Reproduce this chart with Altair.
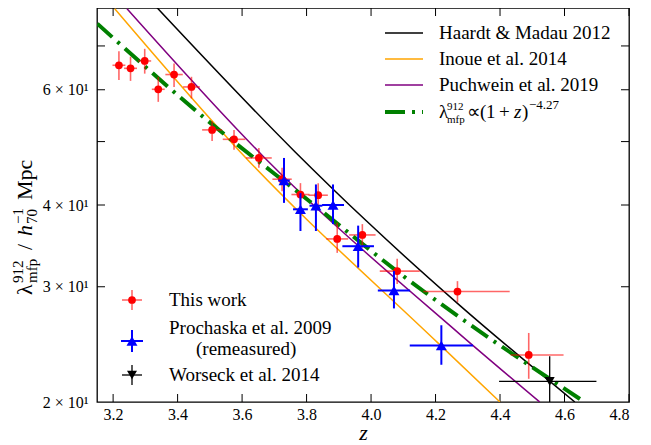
import altair as alt
import pandas as pd

# ---------------- data ----------------
# This work
tw_z   = [3.218, 3.254, 3.298, 3.340, 3.389, 3.443, 3.507, 3.575, 3.652, 3.724, 3.781, 3.836, 3.895, 3.973, 4.081, 4.268, 4.489]
tw_val = [65.4, 64.7, 66.4, 60.1, 63.3, 60.6, 52.1, 50.4, 47.2, 43.8, 41.5, 41.4, 35.5, 36.0, 31.7, 29.5, 23.6]
tw_zlo = [3.198, 3.234, 3.278, 3.320, 3.362, 3.417, 3.476, 3.540, 3.612, 3.694, 3.753, 3.806, 3.861, 3.932, 4.027, 4.162, 4.433]
tw_zhi = [3.238, 3.274, 3.318, 3.360, 3.416, 3.469, 3.538, 3.610, 3.692, 3.754, 3.809, 3.866, 3.929, 4.014, 4.151, 4.430, 4.597]
tw_vlo = [62.1, 61.9, 63.5, 57.5, 60.6, 58.2, 50.1, 48.6, 45.6, 42.0, 39.9, 39.6, 33.8, 34.4, 30.3, 28.4, 21.7]
tw_vhi = [68.7, 67.4, 69.3, 62.8, 65.8, 62.8, 53.7, 52.1, 48.9, 45.6, 43.2, 43.2, 37.6, 37.4, 33.1, 30.6, 25.5]

# Prochaska et al. 2009 (remeasured)
p9_z   = [3.730, 3.781, 3.829, 3.882, 3.960, 4.071, 4.218]
p9_val = [43.6, 39.4, 39.9, 40.0, 34.6, 29.6, 24.4]
p9_zlo = [3.712, 3.758, 3.809, 3.848, 3.911, 4.021, 4.120]
p9_zhi = [3.748, 3.804, 3.849, 3.916, 4.009, 4.121, 4.316]
p9_vlo = [40.3, 36.5, 36.5, 37.4, 32.1, 27.8, 22.8]
p9_vhi = [47.2, 41.7, 43.0, 43.0, 37.2, 31.7, 26.2]

# Worseck et al. 2014
w14_z   = [4.554]
w14_val = [21.5]
w14_zlo = [4.397]
w14_zhi = [4.699]
w14_vlo = [19.0]
w14_vhi = [23.5]

# model curves
hm12_z   = [3.335, 3.763, 3.986, 4.275, 4.632]
hm12_val = [80.2, 48.3, 37.8, 28.1, 20.0]
in14_z   = [3.205, 3.593, 4.208, 4.400]
in14_val = [79.8, 48.3, 24.6, 20.0]
pu19_z   = [3.243, 3.665, 4.275, 4.523]
pu19_val = [79.8, 47.5, 25.4, 20.0]
fit_z    = [3.151, 3.484, 3.810, 4.080, 4.662]
fit_val  = [75.7, 54.3, 40.5, 31.7, 20.0]

model_names  = ["Haardt & Madau 2012", "Inoue et al. 2014", "Puchwein et al. 2019"]
model_colors = ["black", "orange", "purple"]

x_ticks = [3.2, 3.4, 3.6, 3.8, 4.0, 4.2, 4.4, 4.6, 4.8]
y_ticks = [30, 40, 50, 60, 70]
y_label_vals = [20, 30, 40, 60]
y_label_txt = ["2 × 10¹", "3 × 10¹", "4 × 10¹", "6 × 10¹"]

# ---------------- layout ----------------
W, H = 532, 394
OX, OY = 97, 8          # screen position of plot origin
FONT = "Liberation Serif"

xs = alt.Scale(domain=[3.15, 4.8], nice=False, zero=False)
ys = alt.Scale(type="log", domain=[20, 80], nice=False)

label_expr = " : ".join(
    f"datum.value == {v} ? '{t}'" for v, t in zip(y_label_vals, y_label_txt)
) + " : ''"

X_AX = alt.Axis(
    values=x_ticks, format=".1f", ticks=False, domain=False, grid=False,
    labelFont=FONT, labelFontSize=16, labelColor="black", labelPadding=4,
    title="z", titleFont=FONT, titleFontSize=22, titleFontStyle="italic",
    titleFontWeight="normal", titleColor="black", titlePadding=0)
Y_AX = alt.Axis(
    values=y_label_vals, labelExpr=label_expr, ticks=False, domain=False, grid=False,
    labelFont=FONT, labelFontSize=16, labelColor="black", labelPadding=9, title=None)


def X(f):
    return alt.X(f, scale=xs, axis=X_AX, title="z")


def Y(f):
    return alt.Y(f, scale=ys, axis=Y_AX, title=None)


one = pd.DataFrame({"a": [0]})


def txt(s, sx, sy, size=19, angle=0, style="normal", align="left", baseline="alphabetic"):
    return alt.Chart(one).mark_text(
        text=s, font=FONT, fontSize=size, fontStyle=style, align=align,
        baseline=baseline, angle=angle, color="black"
    ).encode(x=alt.value(sx - OX), y=alt.value(sy - OY))


def seg(x1, y1, x2, y2, color, width=1.5, dash=None, opacity=1.0):
    kw = dict(color=color, strokeWidth=width, opacity=opacity)
    if dash:
        kw["strokeDash"] = dash
    return alt.Chart(one).mark_rule(**kw).encode(
        x=alt.value(x1 - OX), y=alt.value(y1 - OY), x2=alt.value(x2 - OX), y2=alt.value(y2 - OY)
    )


def pt(sx, sy, shape, color, size):
    return alt.Chart(one).mark_point(shape=shape, filled=True, color=color, size=size, opacity=1).encode(
        x=alt.value(sx - OX), y=alt.value(sy - OY)
    )


# ---------------- inward ticks ----------------
xt = pd.DataFrame({"t": x_ticks})
yt = pd.DataFrame({"t": y_ticks})
tick_layers = [
    alt.Chart(xt).mark_rule(color="black", strokeWidth=1).encode(
        x=X("t:Q"), y=alt.value(H), y2=alt.value(H - 8)),
    alt.Chart(xt).mark_rule(color="black", strokeWidth=1).encode(
        x=X("t:Q"), y=alt.value(0), y2=alt.value(8)),
    alt.Chart(yt).mark_rule(color="black", strokeWidth=1).encode(
        y=Y("t:Q"), x=alt.value(0), x2=alt.value(8)),
    alt.Chart(yt).mark_rule(color="black", strokeWidth=1).encode(
        y=Y("t:Q"), x=alt.value(W - 8), x2=alt.value(W)),
]

# ---------------- model lines ----------------
rows = []
for name, zz, vv in [(model_names[0], hm12_z, hm12_val), (model_names[1], in14_z, in14_val), (model_names[2], pu19_z, pu19_val)]:
    for a, b in zip(zz, vv):
        rows.append({"model": name, "z": a, "v": b})
lines_df = pd.DataFrame(rows)
lines = alt.Chart(lines_df).mark_line(strokeWidth=1.5, interpolate="monotone", clip=True).encode(
    x=X("z:Q"),
    y=Y("v:Q"),
    color=alt.Color("model:N", scale=alt.Scale(domain=model_names, range=model_colors), legend=None),
    detail="model:N",
)
GREEN_DASH = [20, 7, 3, 7]
fit = alt.Chart(pd.DataFrame({"z": fit_z, "v": fit_val})).mark_line(
    color="green", strokeWidth=4, strokeDash=GREEN_DASH, interpolate="monotone", clip=True
).encode(x=X("z:Q"), y=Y("v:Q"))


# ---------------- data with error bars ----------------
def errset(z, v, zlo, zhi, vlo, vhi, color, bar_w, bar_op, shape, size):
    df = pd.DataFrame({"z": z, "v": v, "zlo": zlo, "zhi": zhi, "vlo": vlo, "vhi": vhi})
    base = alt.Chart(df)
    hb = base.mark_rule(color=color, strokeWidth=bar_w, opacity=bar_op, clip=True).encode(
        x=X("zlo:Q"), x2="zhi:Q", y=Y("v:Q"))
    vb = base.mark_rule(color=color, strokeWidth=bar_w, opacity=bar_op, clip=True).encode(
        x=X("z:Q"), y=Y("vlo:Q"), y2="vhi:Q")
    pts = base.mark_point(shape=shape, filled=True, color=color, size=size, opacity=1, clip=True).encode(
        x=X("z:Q"), y=Y("v:Q"))
    return [hb, vb, pts]


red = errset(tw_z, tw_val, tw_zlo, tw_zhi, tw_vlo, tw_vhi, "red", 1.6, 0.6, "circle", 60)
blue = errset(p9_z, p9_val, p9_zlo, p9_zhi, p9_vlo, p9_vhi, "blue", 2, 1.0, "triangle-up", 120)
blk = errset(w14_z, w14_val, w14_zlo, w14_zhi, w14_vlo, w14_vhi, "black", 1.3, 1.0, "triangle-down", 100)

# ---------------- legends ----------------
leg = []
rows_y = [33, 59, 85, 112]
for i, (nm, col) in enumerate(zip(model_names, model_colors)):
    leg.append(seg(385, rows_y[i], 423, rows_y[i], col, 1.5))
    leg.append(txt(nm, 439, rows_y[i], 19, baseline="middle"))
leg.append(seg(385, rows_y[3], 423, rows_y[3], "green", 4, GREEN_DASH))
b4 = 118
leg += [
    txt("λ", 439, b4, 19),
    txt("912", 447, b4 - 8, 11),
    txt("mfp", 447, b4 + 5, 11),
    txt("∝", 467, b4, 19),
    txt("(", 480, b4, 19),
    txt("1", 486, b4, 19),
    txt("+", 499, b4, 19),
    txt("z", 514, b4, 19, style="italic"),
    txt(")", 522, b4, 19),
    txt("−4.27", 529, b4 - 9, 13),
]

# bottom-left legend
leg += [
    seg(122, 300, 142, 300, "red", 1.6, opacity=0.6),
    seg(132, 290, 132, 310, "red", 1.6, opacity=0.6),
    pt(132, 300, "circle", "red", 60),
    txt("This work", 169, 300, 19, baseline="middle"),
    seg(121, 341, 143, 341, "blue", 2),
    seg(132, 330, 132, 352, "blue", 2),
    pt(132, 341, "triangle-up", "blue", 120),
    txt("Prochaska et al. 2009", 169, 328, 19, baseline="middle"),
    txt("(remeasured)", 196, 349, 19, baseline="middle"),
    seg(122, 375, 142, 375, "black", 1.3),
    seg(132, 365, 132, 385, "black", 1.3),
    pt(132, 375, "triangle-down", "black", 100),
    txt("Worseck et al. 2014", 169, 375, 19, baseline="middle"),
]

# y-axis title pieces (rotated)
YB = 32   # main baseline (screen x)
leg += [
    txt("λ", YB, 295, 22, angle=270),
    txt("912", YB - 9, 283, 15, angle=270),
    txt("mfp", YB + 5, 283, 15, angle=270),
    txt("/", YB, 250, 22, angle=270),
    txt("h", YB, 236, 22, angle=270, style="italic"),
    txt("−1", YB - 9, 224, 15, angle=270),
    txt("70", YB + 5, 224, 15, angle=270),
    txt("Mpc", YB, 200, 22, angle=270),
]

chart = alt.layer(
    *tick_layers, lines, fit, *red, *blue, *blk, *leg
).properties(
    width=W, height=H,
    padding={"left": OX - 8, "top": OY - 8, "right": 10, "bottom": 42},
    autosize=alt.AutoSizeParams(type="none"),
).configure(
    font=FONT
).configure_view(
    stroke="black", strokeWidth=1.3
).configure_axis(
    labelFont=FONT, titleFont=FONT
)

chart.save("out.html", embed_options={"renderer": "svg", "actions": False})
